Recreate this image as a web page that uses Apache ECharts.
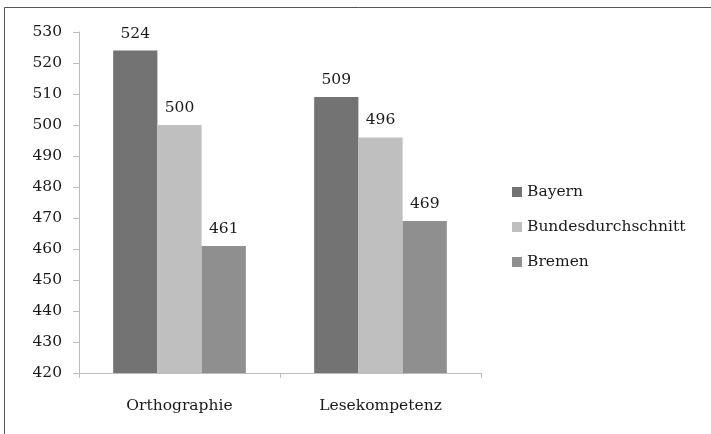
<!DOCTYPE html>
<html>
<head>
<meta charset="utf-8">
<script src="https://cdn.jsdelivr.net/npm/echarts@6/dist/echarts.min.js"></script>
<style>
  html, body { margin: 0; padding: 0; background: #fff; }
  #chart { width: 711px; height: 434px; }
</style>
</head>
<body>
<div id="chart"></div>
<script>
// Kompetenzwerte nach Bereich
const categories = ['Orthographie', 'Lesekompetenz'];
const bayern = [524, 509];
const bundesdurchschnitt = [500, 496];
const bremen = [461, 469];
const seriesNames = ['Bayern', 'Bundesdurchschnitt', 'Bremen'];
const colors = ['#737373', '#bfbfbf', '#8f8f8f'];

const font = 'DejaVu Serif';
const fontSize = 15.5;
const textColor = '#1a1a1a';

const chart = echarts.init(document.getElementById('chart'));

function barSeries(name, data, color) {
  return {
    name: name,
    type: 'bar',
    data: data,
    barGap: '0%',
    barCategoryGap: '34%',
    itemStyle: { color: color },
    label: {
      show: true,
      position: 'top',
      distance: 9,
      color: textColor,
      fontFamily: font,
      fontSize: fontSize
    }
  };
}

chart.setOption({
  animation: false,
  backgroundColor: '#fff',
  color: colors,
  graphic: [{
    type: 'rect',
    shape: { x: 4.5, y: 7.5, width: 720, height: 440 },
    style: { fill: 'none', stroke: '#555', lineWidth: 1 },
    silent: true,
    z: -1
  }],
  grid: { left: 79, right: 230, top: 32, bottom: 61 },
  legend: {
    orient: 'vertical',
    left: 507,
    top: 179,
    itemWidth: 10,
    itemHeight: 10,
    itemGap: 19,
    icon: 'rect',
    data: seriesNames,
    textStyle: { color: textColor, fontFamily: font, fontSize: fontSize }
  },
  xAxis: {
    type: 'category',
    data: categories,
    axisLine: { lineStyle: { color: '#bdbdbd', width: 1 } },
    axisTick: { show: true, length: 5, lineStyle: { color: '#bdbdbd' } },
    axisLabel: { color: textColor, fontFamily: font, fontSize: fontSize, margin: 25 }
  },
  yAxis: {
    type: 'value',
    min: 420,
    max: 530,
    interval: 10,
    splitLine: { show: false },
    axisLine: { show: true, lineStyle: { color: '#bdbdbd', width: 1 } },
    axisTick: { show: true, length: 6, lineStyle: { color: '#bdbdbd' } },
    axisLabel: { color: textColor, fontFamily: font, fontSize: fontSize, margin: 17 }
  },
  series: [
    barSeries(seriesNames[0], bayern, colors[0]),
    barSeries(seriesNames[1], bundesdurchschnitt, colors[1]),
    barSeries(seriesNames[2], bremen, colors[2])
  ]
});
</script>
</body>
</html>
